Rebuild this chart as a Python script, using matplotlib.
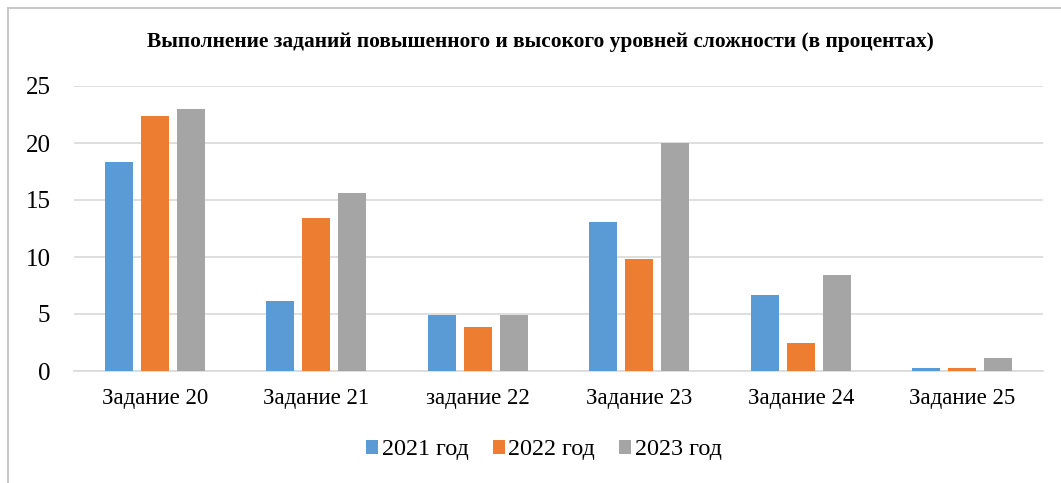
import matplotlib
matplotlib.use("Agg")
import matplotlib.pyplot as plt
import numpy as np

categories = ["Задание 20", "Задание 21", "задание 22", "Задание 23", "Задание 24", "Задание 25"]
series_names = ["2021 год", "2022 год", "2023 год"]
v2021 = [18.3, 6.1, 4.9, 13.1, 6.7, 0.25]
v2022 = [22.4, 13.4, 3.9, 9.8, 2.5, 0.25]
v2023 = [23.0, 15.6, 4.9, 20.0, 8.4, 1.1]
colors = ["#5B9BD5", "#ED7D31", "#A5A5A5"]
yticks = [0, 5, 10, 15, 20, 25]

plt.rcParams['font.family'] = ['Liberation Serif', 'DejaVu Serif']

fig = plt.figure(figsize=(10.61, 4.83), dpi=100)
ax = fig.add_axes([74/1061, 1-371/483, (1043-74)/1061, (371-86)/483])

x = np.arange(len(categories))
w = 0.173
step = 0.223
for i, (vals, name, c) in enumerate(zip([v2021, v2022, v2023], series_names, colors)):
    ax.bar(x + (i-1)*step, vals, width=w, color=c, label=name, zorder=3)

ax.set_xlim(-0.5, len(categories)-0.5)
ax.set_ylim(0, 25)
ax.set_yticks(yticks)
ax.set_yticklabels([str(t) for t in yticks], fontsize=18)
ax.set_xticks(x)
ax.set_xticklabels(categories, fontsize=16.5)
ax.tick_params(axis='both', length=0)
ax.tick_params(axis='y', pad=17)
ax.tick_params(axis='x', pad=12)
ax.grid(axis='y', color='#D9D9D9', linewidth=1.2, zorder=0)
for s in ['top', 'right', 'left']:
    ax.spines[s].set_visible(False)
ax.spines['bottom'].set_color('#D9D9D9')
ax.spines['bottom'].set_linewidth(1.2)

fig.text(540/1061, 1-42/483, "Выполнение заданий повышенного и высокого уровней сложности (в процентах)",
         ha='center', va='center', fontsize=15.4, fontweight='bold')

leg = fig.legend(loc='center', bbox_to_anchor=(544/1061, 1-450/483), ncol=3, frameon=False,
                 fontsize=17.4, handlelength=0.5, handleheight=0.5, handletextpad=0.15, columnspacing=1.0)

# chart border (left and top visible)
fig.add_artist(plt.Line2D([8/1061, 8/1061], [0, 1-8/483], color='#BFBFBF', linewidth=1.2, transform=fig.transFigure))
fig.add_artist(plt.Line2D([8/1061, 1], [1-8/483, 1-8/483], color='#BFBFBF', linewidth=1.2, transform=fig.transFigure))

fig.savefig("out.png", dpi=100)
